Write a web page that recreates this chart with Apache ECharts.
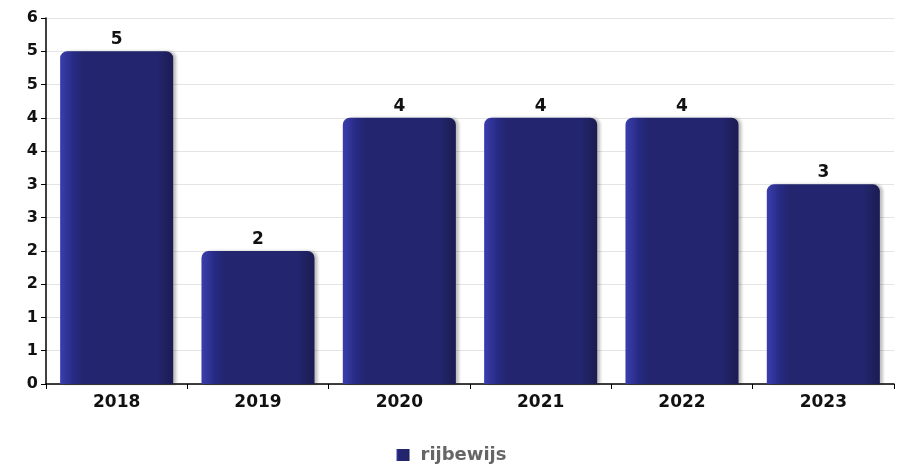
<!DOCTYPE html>
<html><head><meta charset="utf-8">
<script src="https://cdn.jsdelivr.net/npm/echarts@6/dist/echarts.min.js"></script>
<style>html,body{margin:0;padding:0;background:#fff}#c{width:903px;height:471px}</style>
</head><body><div id="c"></div>
<script>
const categories = ['2018','2019','2020','2021','2022','2023'];
const seriesName = 'rijbewijs';
const values = [5, 2, 4, 4, 4, 3];
const yMin = 0, yMax = 5.5, yInterval = 0.5;

const chart = echarts.init(document.getElementById('c'));
const font = 'DejaVu Sans';
chart.setOption({
  animation: false,
  textStyle: {fontFamily: font},
  grid: {left: 46, right: 9, top: 18, bottom: 87},
  legend: {
    bottom: 2, left: 'center',
    icon: 'rect', itemWidth: 13, itemHeight: 12, itemGap: 10,
    textStyle: {fontFamily: font, fontWeight: 'bold', fontSize: 18, color: '#666', padding: [0, 0, 0, 6]},
    data: [seriesName]
  },
  xAxis: {
    type: 'category', data: categories,
    axisLine: {lineStyle: {color: '#000', width: 1.5}},
    axisTick: {show: true, length: 5, lineStyle: {color: '#000'}},
    axisLabel: {fontFamily: font, fontWeight: 'bold', fontSize: 17, color: '#111', margin: 10}
  },
  yAxis: {
    type: 'value', min: yMin, max: yMax, interval: yInterval,
    axisLine: {show: true, lineStyle: {color: '#000', width: 1.5}},
    axisTick: {show: true, length: 5, lineStyle: {color: '#000'}},
    axisLabel: {fontFamily: font, fontWeight: 'bold', fontSize: 16, color: '#111', margin: 8,
      formatter: v => String(Math.round(v))},
    splitLine: {lineStyle: {color: '#e4e4e4'}}
  },
  series: [{
    name: seriesName, type: 'bar', data: values, barWidth: '80%',
    label: {show: true, position: 'top', distance: 3, fontFamily: font, fontWeight: 'bold', fontSize: 17, color: '#111'},
    itemStyle: {
      borderRadius: [7, 7, 0, 0],
      shadowColor: 'rgba(0,0,0,0.25)', shadowOffsetX: 3, shadowOffsetY: 0, shadowBlur: 3,
      color: new echarts.graphic.LinearGradient(0, 0, 1, 0, [
        {offset: 0, color: '#3a3eae'},
        {offset: 0.12, color: '#272a82'},
        {offset: 0.2, color: '#23266f'},
        {offset: 0.85, color: '#23266f'},
        {offset: 1, color: '#1b1c52'}
      ])
    }
  }]
});
</script></body></html>
